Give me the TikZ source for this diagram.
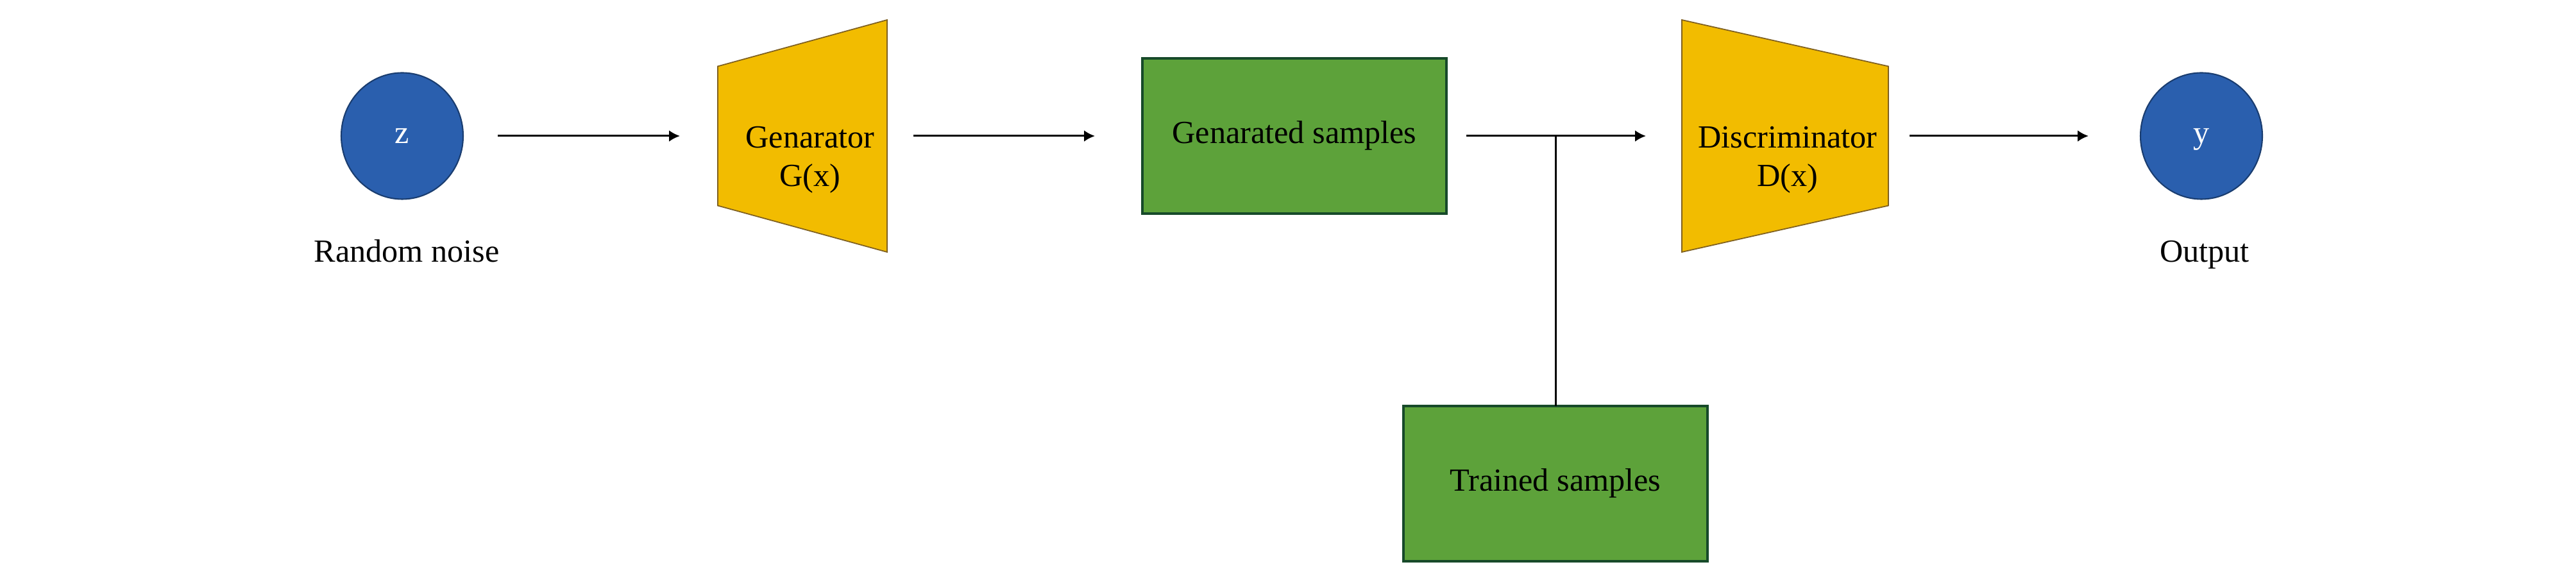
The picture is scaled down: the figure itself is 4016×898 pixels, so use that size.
\documentclass[tikz,border=0pt]{standalone}
\usepackage{fontspec}
\setmainfont{Liberation Serif}
\usetikzlibrary{arrows.meta,shapes.geometric,calc}

\definecolor{noiseblue}{HTML}{2A5FAE}
\definecolor{noiseline}{HTML}{1A3D70}
\definecolor{netyellow}{HTML}{F2BC00}
\definecolor{netline}{HTML}{7F6020}
\definecolor{samplegreen}{HTML}{5DA23A}
\definecolor{sampleline}{HTML}{174A2A}

\begin{document}
\begin{tikzpicture}[x=0.1mm, y=-0.1mm,
  every node/.style={font=\fontsize{14.3pt}{17.1pt}\selectfont},
  latent/.style={ellipse, draw=noiseline, fill=noiseblue, line width=0.6pt, text=white,
    minimum width=19mm, minimum height=19.7mm, inner sep=0pt, outer sep=0pt,
    text height=0.65em, text depth=0pt},
  samplebox/.style={rectangle, draw=sampleline, fill=samplegreen, line width=0.9pt,
    minimum width=47.4mm, minimum height=24.2mm, inner sep=0pt, outer sep=0pt,
    text height=0.68em, text depth=0pt},
  netframe/.style={inner sep=0pt, outer sep=0pt, minimum height=36.2mm},
  trap/.style={fill=netyellow, draw=netline, line width=0.5pt},
  link/.style={-{Latex[length=1.7mm,width=1.8mm]}, line width=0.85pt}]
\useasboundingbox (0,0) rectangle (4016,898);

\node[latent] (z) at (627,212) {z};
\node[anchor=base] (noise) at (634,409) {Random noise};

\node[netframe, minimum width=26.4mm] (gen) at (1251,212) {};
\filldraw[trap] (gen.north east) -- (gen.south east)
  -- ($(gen.south west)!0.2!(gen.north west)$) -- ($(gen.north west)!0.2!(gen.south west)$) -- cycle;
\node[align=center] (gentext) at (1263,249) {Genarator\\G(x)};

\node[samplebox] (fake) at (2018,212) {Genarated samples};
\node[samplebox] (real) at (2425,754) {Trained samples};

\node[netframe, minimum width=32.2mm] (disc) at (2783,212) {};
\filldraw[trap] (disc.north west) -- (disc.south west)
  -- ($(disc.south east)!0.2!(disc.north east)$) -- ($(disc.north east)!0.2!(disc.south east)$) -- cycle;
\node[align=center] (disctext) at (2787,249) {Discriminator\\D(x)};

\node[latent] (y) at (3432,212) {y};
\node[anchor=base] (out) at (3437,409) {Output};

\draw[link, shorten <=5.4mm, shorten >=5.9mm] (z) -- (gen);
\draw[link, shorten <=4.1mm, shorten >=7.4mm] (gen) -- (fake);
\draw[link, shorten <=3.1mm, shorten >=5.6mm] (fake) -- (disc);
\draw[line width=0.85pt] (real) -- (real.north |- fake.east);
\draw[link, shorten <=3.3mm, shorten >=8.1mm] (disc) -- (y);
\end{tikzpicture}
\end{document}
